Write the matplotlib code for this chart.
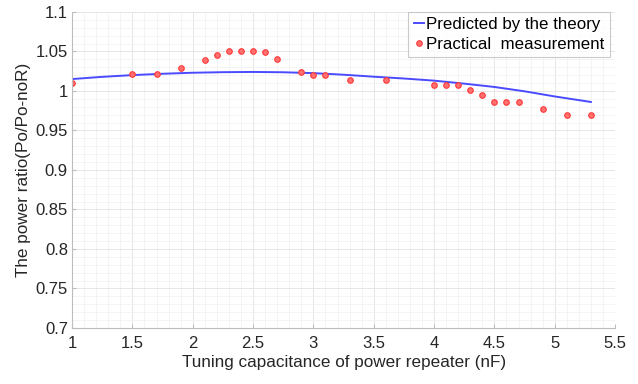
import numpy as np
import matplotlib.pyplot as plt
from matplotlib.ticker import MultipleLocator

cap_meas = [1.0, 1.5, 1.7, 1.9, 2.1, 2.2, 2.3, 2.4, 2.5, 2.6, 2.7, 2.9, 3.0, 3.1,
            3.3, 3.6, 4.0, 4.1, 4.2, 4.3, 4.4, 4.5, 4.6, 4.7, 4.9, 5.1, 5.3]
ratio_meas = [1.010, 1.021, 1.021, 1.029, 1.039, 1.045, 1.051, 1.051, 1.051, 1.049,
              1.041, 1.024, 1.020, 1.020, 1.014, 1.014, 1.008, 1.008, 1.008, 1.001,
              0.995, 0.986, 0.986, 0.986, 0.977, 0.969, 0.969]

# theory curve
cap_theory = [1.0, 1.25, 1.5, 1.75, 2.0, 2.25, 2.5, 2.75, 3.0, 3.25, 3.5, 3.75,
              4.0, 4.25, 4.5, 4.75, 5.0, 5.3]
ratio_theory = [1.015, 1.0178, 1.020, 1.0217, 1.023, 1.0237, 1.024, 1.0236, 1.0225,
                1.0205, 1.018, 1.0157, 1.013, 1.0092, 1.005, 0.9995, 0.993, 0.986]

plt.rcParams['font.family'] = ['Liberation Sans', 'DejaVu Sans']

fig = plt.figure(figsize=(6.38, 3.84), dpi=100)
ax = fig.add_axes([0.113, 0.146, 0.851, 0.823])

ax.plot(cap_theory, ratio_theory, color='#4a4aff', lw=1.4, label='Predicted by the theory')
ax.plot(cap_meas, ratio_meas, 'o', color='#ff5050', mfc='#ff7070', mec='#ff3838',
        ms=4, mew=0.8, label='Practical  measurement')

ax.set_xlim(1, 5.5)
ax.set_ylim(0.7, 1.1)
ax.xaxis.set_major_locator(MultipleLocator(0.5))
ax.yaxis.set_major_locator(MultipleLocator(0.05))
ax.xaxis.set_minor_locator(MultipleLocator(0.1))
ax.yaxis.set_minor_locator(MultipleLocator(0.01))
ax.set_xticklabels([f"{v:g}" for v in ax.get_xticks()])
ax.set_yticklabels([f"{v:g}" for v in ax.get_yticks()])

ax.grid(which='major', color='#e6e6e6', lw=0.7)
ax.grid(which='minor', color='#f2f2f2', lw=0.6)
ax.set_axisbelow(True)

for s in ['top', 'right']:
    ax.spines[s].set_visible(False)
for s in ['left', 'bottom']:
    ax.spines[s].set_color('#bdbdbd')
ax.tick_params(which='major', direction='in', length=3, color='#bdbdbd',
               labelsize=12, labelcolor='#262626')
ax.tick_params(axis='x', pad=6)
ax.tick_params(axis='y', pad=3)
ax.tick_params(which='minor', length=0)

ax.set_xlabel('Tuning capacitance of power repeater (nF)', fontsize=12.3, color='#262626', labelpad=3)
ax.set_ylabel('The power ratio(Po/Po-noR)', fontsize=12.3, color='#262626', labelpad=3)

leg = ax.legend(loc='upper right', bbox_to_anchor=(0.99, 1.0), fontsize=12.2,
                frameon=True, fancybox=False, edgecolor='#bdbdbd',
                handlelength=0.6, handletextpad=0.15, borderpad=0.3,
                labelspacing=0.3, borderaxespad=0.0)
leg.get_frame().set_linewidth(0.8)

fig.savefig('out.png', dpi=100)
